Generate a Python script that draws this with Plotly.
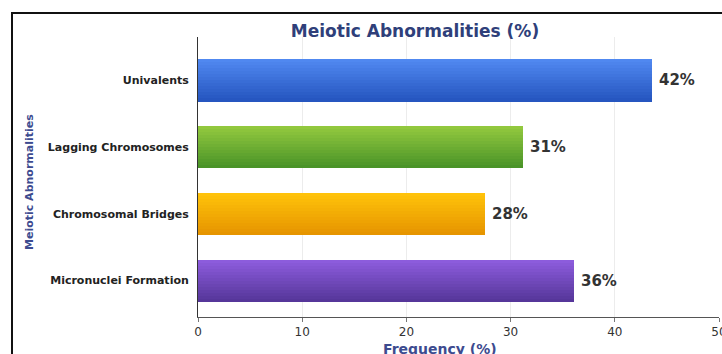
import plotly.graph_objects as go

# ---- data ----
categories = ["Univalents", "Lagging Chromosomes", "Chromosomal Bridges", "Micronuclei Formation"]
values = [43.6, 31.2, 27.5, 36.1]
value_labels = ["42%", "31%", "28%", "36%"]
top_colors = ["#5088f0", "#92c83e", "#ffc20a", "#8c5cdc"]
bottom_colors = ["#2656c0", "#4a9428", "#e69500", "#56369a"]
x_ticks = [0, 10, 20, 30, 40, 50]

W, H = 722, 354
ML, MR, MT, MB = 198, 3, 37, 37
PW, PH = W - ML - MR, H - MT - MB


def px_x(p):
    return (p - ML) / PW


def px_y(p):
    return (H - MB - p) / PH


def hex2rgb(h):
    h = h.lstrip("#")
    return [int(h[i:i + 2], 16) for i in (0, 2, 4)]


def mix(c1, c2, t):
    a, b = hex2rgb(c1), hex2rgb(c2)
    return "rgb(%d,%d,%d)" % tuple(round(a[i] + (b[i] - a[i]) * t) for i in range(3))


fig = go.Figure()

bar_w = 0.63
N = 14
strip = bar_w / N
for k in range(N):
    t = k / (N - 1)
    fig.add_trace(go.Bar(
        x=values, y=categories, orientation="h",
        width=strip * 1.08, offset=-bar_w / 2 + k * strip,
        marker=dict(color=[mix(top_colors[i], bottom_colors[i], t) for i in range(len(categories))],
                    line=dict(width=0)),
        hoverinfo="skip", showlegend=False,
    ))

for v, c, lab in zip(values, categories, value_labels):
    fig.add_annotation(x=v, y=c, xref="x", yref="y", text=lab, showarrow=False,
                       xanchor="left", yanchor="middle", xshift=5,
                       font=dict(family="DejaVu Sans", size=15, color="#333333", weight="bold"))

# axis titles as annotations
fig.add_annotation(x=px_x(30), y=px_y(182), xref="paper", yref="paper",
                   text="Meiotic Abnormalities", textangle=-90, showarrow=False,
                   xanchor="center", yanchor="middle",
                   font=dict(family="DejaVu Sans", size=11, color="#3d4b8f", weight="bold"))
fig.add_annotation(x=px_x(440), y=px_y(349), xref="paper", yref="paper",
                   text="Frequency (%)", showarrow=False,
                   xanchor="center", yanchor="middle",
                   font=dict(family="DejaVu Sans", size=14, color="#3d4b8f", weight="bold"))

# outer frame
fig.add_shape(type="rect", xref="paper", yref="paper",
              x0=px_x(12), x1=px_x(760), y0=px_y(400), y1=px_y(13),
              line=dict(color="#111111", width=2), fillcolor="rgba(0,0,0,0)", layer="above")

fig.update_layout(
    width=W, height=H,
    margin=dict(l=ML, r=MR, t=MT, b=MB, pad=0, autoexpand=False),
    paper_bgcolor="white", plot_bgcolor="white",
    barmode="overlay", bargap=0,
    title=dict(text="Meiotic Abnormalities (%)", x=px_x(415), xref="paper", xanchor="center",
               y=1 - 31.5 / H, yref="container", yanchor="middle",
               font=dict(family="DejaVu Sans", size=17, color="#2f3f7a", weight="bold")),
    xaxis=dict(range=[0, 50], tickvals=x_ticks, ticktext=[str(t) for t in x_ticks],
               showgrid=True, gridcolor="#ececec", gridwidth=1,
               showline=True, linecolor="#555555", linewidth=1,
               ticks="outside", ticklen=4, tickcolor="#777777",
               ticklabeloverflow="allow", automargin=False,
               tickfont=dict(family="DejaVu Sans", size=12, color="#333333"),
               zeroline=False, fixedrange=True),
    yaxis=dict(type="category", categoryorder="array", categoryarray=categories,
               range=[3.547, -0.652], showgrid=False, automargin=False,
               showline=True, linecolor="#333333", linewidth=1,
               ticks="", ticklabelstandoff=6,
               tickfont=dict(family="DejaVu Sans", size=11, color="#222222", weight="bold"),
               zeroline=False, fixedrange=True),
)

fig.write_html("out.html", config={"displayModeBar": False})
